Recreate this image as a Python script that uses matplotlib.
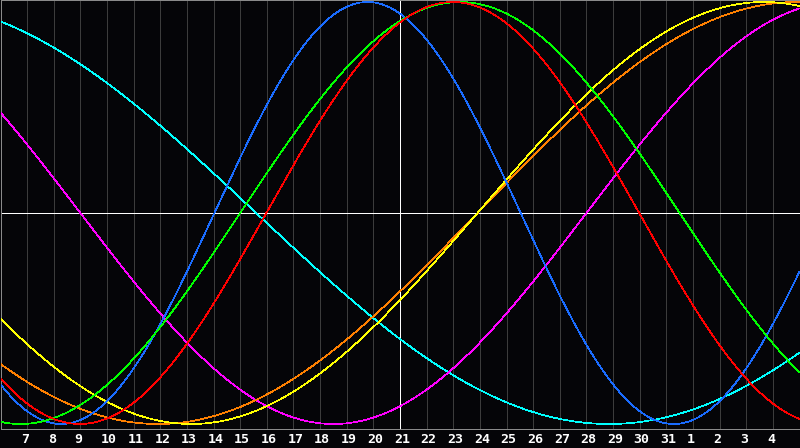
import numpy as np
import matplotlib
matplotlib.use("Agg")
import matplotlib.pyplot as plt
from matplotlib.transforms import ScaledTranslation

# ---- data -------------------------------------------------------------
# chart covers days 6 .. 36 (continuous day index), centre (today) = day 21
day_ticks = list(range(7, 36))
day_labels = [str(d) for d in range(7, 32)] + ["1", "2", "3", "4"]
today = 21

cycle_names = ["physical", "emotional", "intellectual", "intuitive",
               "aesthetic", "awareness", "spiritual"]
cycle_periods = [23, 28, 33, 38, 43, 48, 53]
# day index at which each cycle crosses zero going upward
cycle_zero_up = [14.03, 15.98, 15.0, 28.0, 23.91, 23.91, 42.1]
cycle_colors = ["#1a6cff", "#ff0000", "#00ff00", "#ff00ff",
                "#ffff00", "#ff8000", "#00ffff"]
draw_order = [6, 3, 5, 4, 0, 2, 1]

# ---- figure -----------------------------------------------------------
W, H, DPI = 800, 448, 100
BG = "#050508"
fig = plt.figure(figsize=(W / DPI, H / DPI), dpi=DPI, facecolor=BG)
# axes box in pixels: left 0.5, right 799.5, top 0.5, bottom 428.5
ax = fig.add_axes([0.5 / W, (H - 428.5) / H, 799.0 / W, 428.0 / H])
ax.set_facecolor(BG)

x0, x1 = 6, 36
ax.set_xlim(x0, x1)
# value v maps to pixel 213 - 211*v
ax.set_ylim((213 - 428.5) / 211.0, (213 - 0.5) / 211.0)

lw = 72.0 / DPI  # one pixel
clw = 0.5        # thin curve strokes
for d in day_ticks:
    if d == today:
        continue
    ax.axvline(d, color="#3c3c3c", lw=lw, antialiased=False, zorder=1)
ax.axvline(today, color="#ffffff", lw=lw, antialiased=False, zorder=2)
ax.axhline(0, color="#ffffff", lw=lw, antialiased=False, zorder=2)

t = np.linspace(x0, x1, 1201)
for i in draw_order:
    v = np.sin(2 * np.pi * (t - cycle_zero_up[i]) / cycle_periods[i])
    ax.plot(t, v, color=cycle_colors[i], lw=clw, antialiased=False,
            zorder=3, label=cycle_names[i])

for side in ["left", "top", "right", "bottom"]:
    ax.spines[side].set_color("#8a8a8a")
    ax.spines[side].set_linewidth(lw)

ax.set_yticks([])
ax.set_xticks(day_ticks)
ax.set_xticklabels(day_labels, color="white", fontsize=9.5,
                   fontweight="bold", family="DejaVu Sans Mono")
ax.tick_params(axis="x", length=0, pad=3.0)
off = ScaledTranslation(-6 / DPI, 0, fig.dpi_scale_trans)
for lab in ax.get_xticklabels():
    lab.set_horizontalalignment("left")
    lab.set_transform(lab.get_transform() + off)

fig.savefig("out.png", dpi=DPI, facecolor=BG)
